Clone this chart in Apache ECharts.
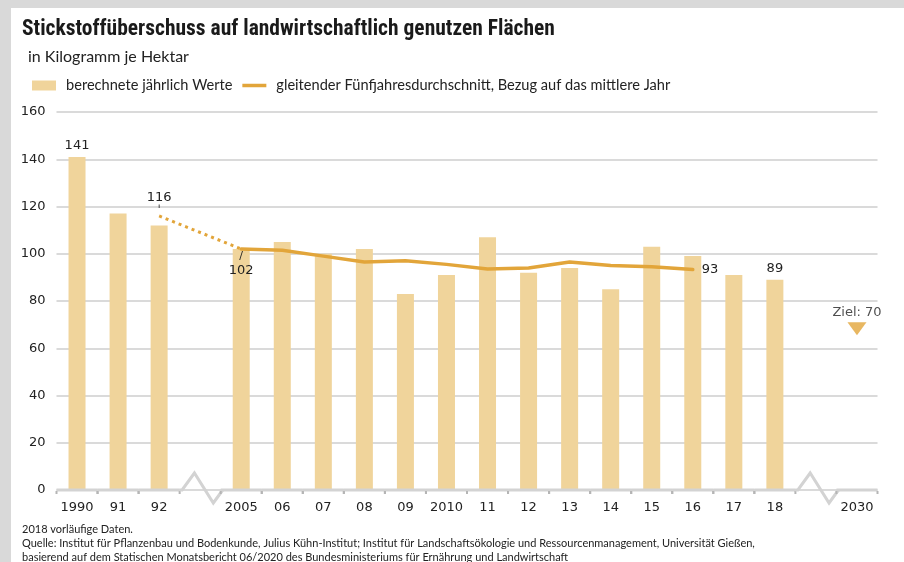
<!DOCTYPE html>
<html>
<head>
<meta charset="utf-8">
<title>Stickstoffüberschuss</title>
<script src="https://cdn.jsdelivr.net/npm/echarts@6/dist/echarts.min.js"></script>
<style>
  html, body { margin: 0; padding: 0; background: #d9d9d9; }
  #chart { position: absolute; left: 11px; top: 8px; width: 893px; height: 554px; background: #fff; }
</style>
</head>
<body>
<div id="chart"></div>
<script>
// Kategorien (break1/break2 = Achsenunterbrechung)
var categories = ['1990', '91', '92', 'break1', '2005', '06', '07', '08', '09', '2010',
                  '11', '12', '13', '14', '15', '16', '17', '18', 'break2', '2030'];
// berechnete jährliche Werte
var annualValues = [141, 117, 112, null, 102, 105, 100, 102, 83, 91,
                    107, 92, 94, 85, 103, 99, 91, 89, null, null];
// gleitender Fünfjahresdurchschnitt
var movingAverage = [null, null, null, null, 102, 101.5, 99, 96.5, 97, 95.5,
                     93.5, 94, 96.5, 95, 94.5, 93.3, null, null, null, null];
// gepunktete Verbindung (Mittel 116) -> 2005 (102)
var bridgeValues = [null, null, 116, null, 102, null, null, null, null, null,
                    null, null, null, null, null, null, null, null, null, null];
// Ziel 2030
var targetValues = [null, null, null, null, null, null, null, null, null, null,
                    null, null, null, null, null, null, null, null, null, 70];
var labelledBars = ['1990', '18'];
var yMin = 0, yMax = 160, yStep = 20;

var barColor = '#f0d49b';
var lineColor = '#e2a53a';
var textFont = 'DejaVu Sans';
var narrowFont = '"Liberation Sans Narrow", "Roboto Condensed", sans-serif';
var bodyFont = 'Lato, "Noto Sans", sans-serif';

function isBreak(name) { return name.indexOf('break') === 0; }

var chart = echarts.init(document.getElementById('chart'));

chart.setOption({
    animation: false,
    title: [
        {
            text: 'Stickstoffüberschuss auf landwirtschaftlich genutzen Flächen',
            left: 6, top: 6,
            textStyle: { fontFamily: narrowFont, fontSize: 21.5, fontWeight: 'bold', color: '#1a1a1a' }
        },
        {
            text: 'in Kilogramm je Hektar',
            left: 12, top: 36,
            textStyle: { fontFamily: bodyFont, fontSize: 16, fontWeight: 'normal', color: '#222' }
        },
        {
            text: '2018 vorläufige Daten.\nQuelle: Institut für Pflanzenbau und Bodenkunde, Julius Kühn-Institut; Institut für Landschaftsökologie und Ressourcenmanagement, Universität Gießen,\nbasierend auf dem Statischen Monatsbericht 06/2020 des Bundesministeriums für Ernährung und Landwirtschaft',
            left: 6, top: 509,
            textStyle: { fontFamily: bodyFont, fontSize: 11, fontWeight: 'normal', color: '#222', lineHeight: 14 }
        }
    ],
    legend: {
        left: 16, top: 65,
        itemWidth: 24, itemHeight: 10, itemGap: 10,
        symbolKeepAspect: true,
        textStyle: { fontFamily: bodyFont, fontSize: 14.6, color: '#222', padding: [0, 0, 0, 5] },
        data: [
            { name: 'berechnete jährlich Werte', icon: 'rect' },
            { name: 'gleitender Fünfjahresdurchschnitt, Bezug auf das mittlere Jahr', icon: 'path://M0,0L48,0L48,7L0,7Z' }
        ]
    },
    grid: { left: 45.5, right: 26.5, top: 104, bottom: 72 },
    xAxis: {
        type: 'category',
        data: categories,
        axisLine: { show: false },
        axisTick: { show: false },
        axisLabel: {
            interval: 0,
            margin: 11,
            fontFamily: textFont, fontSize: 13, color: '#222',
            formatter: function (v) { return isBreak(v) ? '' : v; }
        }
    },
    yAxis: {
        type: 'value',
        min: yMin, max: yMax, interval: yStep,
        axisLine: { show: false },
        axisTick: { show: false },
        axisLabel: { margin: 11, fontFamily: textFont, fontSize: 13, color: '#222' },
        splitLine: { lineStyle: { color: '#dadada', width: 2 } }
    },
    series: [
        {
            name: 'berechnete jährlich Werte',
            type: 'bar',
            barWidth: 17,
            itemStyle: { color: barColor },
            label: {
                fontFamily: textFont, fontSize: 13, color: '#222', position: 'top', distance: 5
            },
            data: annualValues.map(function (v, i) {
                return {
                    value: v,
                    label: { show: labelledBars.indexOf(categories[i]) >= 0 }
                };
            }),
            z: 2
        },
        {
            name: 'gleitender Fünfjahresdurchschnitt, Bezug auf das mittlere Jahr',
            type: 'line',
            symbol: 'none',
            lineStyle: { color: lineColor, width: 3.5, cap: 'round', join: 'round' },
            itemStyle: { color: lineColor },
            endLabel: {
                show: true, distance: 9,
                fontFamily: textFont, fontSize: 13, color: '#222',
                formatter: function (p) { return Math.floor(p.value); }
            },
            data: movingAverage,
            z: 4
        },
        {
            name: 'Übergang',
            type: 'line',
            connectNulls: true,
            symbol: 'circle',
            symbolSize: 1,
            showSymbol: true,
            lineStyle: { color: lineColor, width: 3, type: [3, 4] },
            itemStyle: { color: 'rgba(0,0,0,0)' },
            data: bridgeValues.map(function (v, i) {
                if (v === null) return null;
                var first = i < 3;
                return {
                    value: v,
                    label: first
                        ? { show: true, position: 'top', distance: 0, formatter: '{n|' + v + '}\n{t|ˈ}',
                            rich: { n: { fontFamily: textFont, fontSize: 13, color: '#222', lineHeight: 16 },
                                    t: { fontFamily: textFont, fontSize: 12, color: '#222', lineHeight: 10 } } }
                        : { show: true, position: 'bottom', distance: 1, formatter: '{t|/}\n{n|' + v + '}',
                            rich: { n: { fontFamily: textFont, fontSize: 13, color: '#222', lineHeight: 16 },
                                    t: { fontFamily: textFont, fontSize: 11, color: '#222', lineHeight: 12 } } }
                };
            }),
            z: 3
        },
        {
            name: 'Ziel',
            type: 'scatter',
            symbol: 'triangle',
            symbolRotate: 180,
            symbolSize: [19, 13],
            symbolOffset: [0, 4],
            itemStyle: { color: lineColor },
            label: {
                show: true, position: 'top', distance: 3,
                fontFamily: textFont, fontSize: 13, color: '#222',
                formatter: function (p) { return 'Ziel: ' + p.value; }
            },
            data: targetValues,
            z: 4
        },
        {
            // Achsenlinie mit Unterbrechungen
            name: 'Achse',
            type: 'custom',
            silent: true,
            clip: false,
            z: 5,
            encode: { x: 0, y: 1 },
            data: categories.map(function (c, i) { return [i, 0, isBreak(c) ? 1 : 0]; }),
            renderItem: function (params, api) {
                var p = api.coord([api.value(0), 0]);
                var b = api.size([1, 0])[0];
                var x = p[0], y = p[1];
                var axisStyle = { stroke: '#d3d3d3', lineWidth: 3, fill: null, lineJoin: 'miter' };
                if (api.value(2) === 1) {
                    return {
                        type: 'polyline',
                        shape: { points: [
                            [x - b / 2, y], [x - b * 0.44, y], [x - b * 0.14, y - 17],
                            [x + b * 0.32, y + 13], [x + b * 0.55, y]
                        ] },
                        style: axisStyle
                    };
                }
                var tickStyle = { stroke: '#b5b5b5', lineWidth: 2 };
                return {
                    type: 'group',
                    children: [
                        { type: 'line', shape: { x1: x - b / 2, y1: y, x2: x + b / 2, y2: y }, style: axisStyle },
                        { type: 'line', shape: { x1: x - b / 2, y1: y + 1, x2: x - b / 2, y2: y + 4 }, style: tickStyle },
                        { type: 'line', shape: { x1: x + b / 2, y1: y + 1, x2: x + b / 2, y2: y + 4 }, style: tickStyle }
                    ]
                };
            }
        }
    ]
});
</script>
</body>
</html>
